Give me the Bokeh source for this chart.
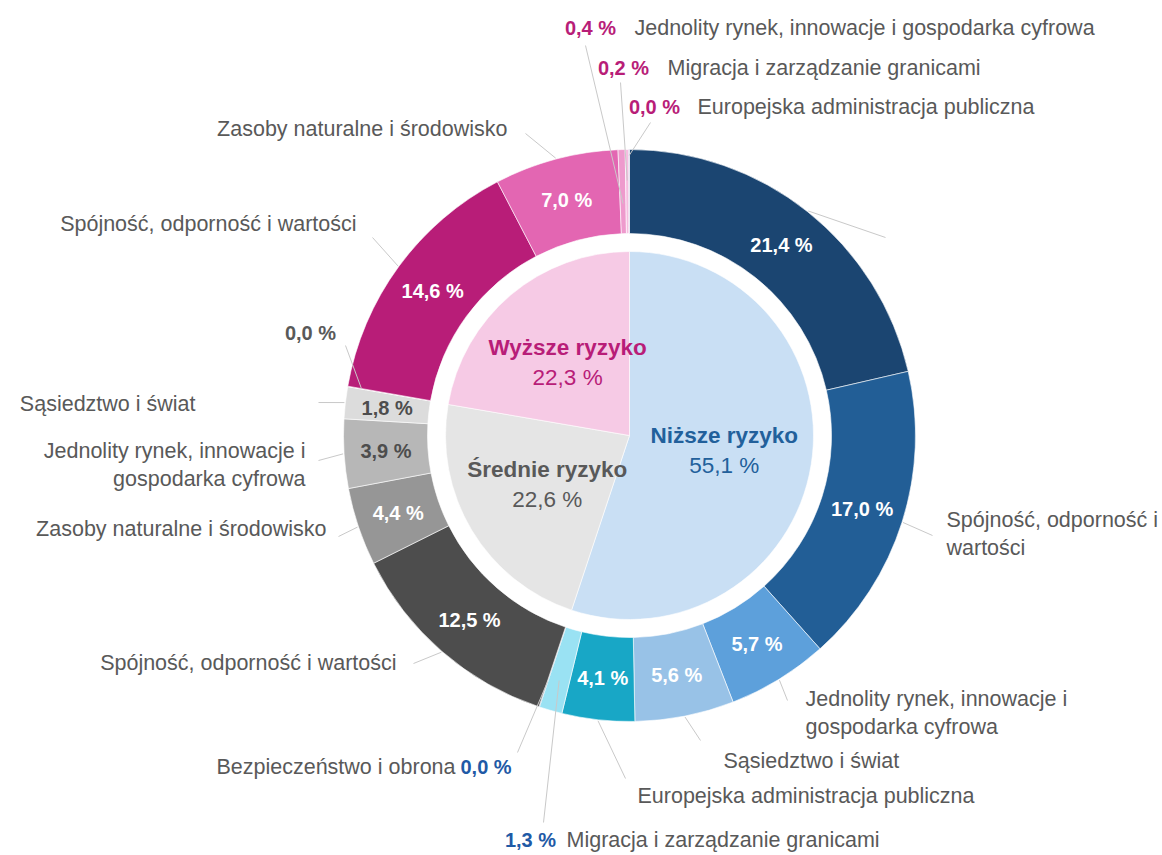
import math
from bokeh.plotting import figure
from bokeh.models import Range1d
from bokeh.core.properties import value
from bokeh.embed import file_html
from bokeh.resources import INLINE

# ---------------- data ----------------
groups = ["Niższe ryzyko", "Średnie ryzyko", "Wyższe ryzyko"]
group_values = [55.1, 22.6, 22.3]
group_colors = ["#C9DFF4", "#E5E5E5", "#F6CAE5"]
group_text_colors = ["#22609B", "#595959", "#B81D78"]

ring_names = [
    "Zasoby naturalne i środowisko", "Spójność, odporność i wartości",
    "Jednolity rynek, innowacje i gospodarka cyfrowa", "Sąsiedztwo i świat",
    "Europejska administracja publiczna", "Migracja i zarządzanie granicami",
    "Bezpieczeństwo i obrona",
    "Spójność, odporność i wartości", "Zasoby naturalne i środowisko",
    "Jednolity rynek, innowacje i gospodarka cyfrowa", "Sąsiedztwo i świat",
    "Europejska administracja publiczna",
    "Spójność, odporność i wartości", "Zasoby naturalne i środowisko",
    "Jednolity rynek, innowacje i gospodarka cyfrowa",
    "Migracja i zarządzanie granicami", "Europejska administracja publiczna",
]
ring_values = [21.4, 17.0, 5.7, 5.6, 4.1, 1.3, 0.03,
               12.5, 4.4, 3.9, 1.8, 0.03,
               14.6, 7.0, 0.4, 0.2, 0.04]
ring_group = [0, 0, 0, 0, 0, 0, 0, 1, 1, 1, 1, 1, 2, 2, 2, 2, 2]
ring_colors = ["#1B4571", "#225E96", "#5DA0DB", "#98C2E7", "#18A7C6", "#9AE2F3", "#2E5E9E",
               "#4D4D4D", "#969696", "#B7B7B7", "#DCDCDC", "#EFEFEF",
               "#B81D78", "#E366B2", "#EE9ACD", "#F6BDE0", "#8E7BBE"]

# ---------------- layout ----------------
W, H = 1162, 855
CX, CY = 629, 435          # screen coords of centre
R_PIE, R_IN, R_OUT = 184, 202, 286
NAME_FONT = "21.5px"
PCT_FONT = "20px"
CENTER_FONT = "22.5px"
TEXT_GREY = "#595959"
LEADER = "#C9C9C9"
FONT = value("Liberation Sans")

def sy(y):
    return H - y

p = figure(width=W, height=H, x_range=Range1d(0, W), y_range=Range1d(0, H),
           output_backend="svg", toolbar_location=None,
           x_axis_location=None, y_axis_location=None, min_border=0)
p.grid.visible = False
p.outline_line_color = None
p.background_fill_color = "white"

# inner pie
tot = sum(group_values)
cum = 0.0
gmid = []
for v, c in zip(group_values, group_colors):
    a0 = math.pi / 2 - 2 * math.pi * cum / tot
    a1 = math.pi / 2 - 2 * math.pi * (cum + v) / tot
    p.wedge(x=CX, y=sy(CY), radius=R_PIE, start_angle=a0, end_angle=a1,
            direction="clock", fill_color=c, line_color="white", line_width=0.6)
    gmid.append((a0 + a1) / 2)
    cum += v

# centre labels
for i, g in enumerate(groups):
    a = gmid[i]
    r = 96
    x = CX + r * math.cos(a)
    y = sy(CY) + r * math.sin(a)
    p.text(x=[x], y=[y + 15], text=[g], text_align="center", text_baseline="middle",
           text_font=FONT, text_font_size=CENTER_FONT, text_font_style="bold",
           text_color=group_text_colors[i])
    p.text(x=[x], y=[y - 15], text=[f"{group_values[i]:.1f} %".replace(".", ",")],
           text_align="center", text_baseline="middle",
           text_font=FONT, text_font_size=CENTER_FONT, text_color=group_text_colors[i])

# outer ring
rtot = sum(ring_values)
cum = 0.0
rmid = []
for v, c in zip(ring_values, ring_colors):
    a0 = math.pi / 2 - 2 * math.pi * cum / rtot
    a1 = math.pi / 2 - 2 * math.pi * (cum + v) / rtot
    p.annular_wedge(x=CX, y=sy(CY), inner_radius=R_IN, outer_radius=R_OUT,
                    start_angle=a0, end_angle=a1, direction="clock",
                    fill_color=c, line_color="white", line_width=0.6)
    rmid.append((a0 + a1) / 2)
    cum += v

def pct(v):
    return f"{v:.1f} %".replace(".", ",")

# label layout: (name lines, name x, first line y, align, pct position or None (inside), leader end, leader ring radius)
layout = [
    ([], None, None, None, None, (885, 237), 287),
    (["Spójność, odporność i", "wartości"], 946, 519, "left", None, (932, 535), 287),
    (["Jednolity rynek, innowacje i", "gospodarka cyfrowa"], 805, 698, "left", None, (787, 700), 287),
    (["Sąsiedztwo i świat"], 723, 760, "left", None, (700, 740), 287),
    (["Europejska administracja publiczna"], 637, 795, "left", None, (625, 778), 287),
    (["Migracja i zarządzanie granicami"], 566, 839, "left", (530, 839, "center"), (543, 822), 255),
    (["Bezpieczeństwo i obrona"], 455, 766, "right", (460, 766, "left"), (517, 752), 260),
    (["Spójność, odporność i wartości"], 396, 662, "right", None, (413, 663), 287),
    (["Zasoby naturalne i środowisko"], 326, 528, "right", None, (338, 536), 287),
    (["Jednolity rynek, innowacje i", "gospodarka cyfrowa"], 305, 450, "right", None, (318, 460), 287),
    (["Sąsiedztwo i świat"], 195, 403, "right", None, (318, 402), 287),
    ([], None, None, None, (310, 332, "center"), (345, 345), 272),
    (["Spójność, odporność i wartości"], 356, 223, "right", None, (372, 237), 287),
    (["Zasoby naturalne i środowisko"], 507, 128, "right", None, (525, 133), 287),
    (["Jednolity rynek, innowacje i gospodarka cyfrowa"], 634, 27, "left", (590, 27, "center"), (585, 45), 232),
    (["Migracja i zarządzanie granicami"], 667, 67, "left", (623, 67, "center"), (620, 82), 255),
    (["Europejska administracja publiczna"], 697, 106, "left", (654, 106, "center"), (650, 122), 280),
]

group_pct_colors = ["#1F5AA6", "#595959", "#B81D78"]
dark_text_segments = {9, 10}

for i, (lines, nx, ny, align, ppos, lend, lr) in enumerate(layout):
    a = rmid[i]
    rx = CX + lr * math.cos(a)
    ry = sy(CY) + lr * math.sin(a)
    p.line(x=[lend[0], rx], y=[sy(lend[1]), ry], line_color=LEADER, line_width=1)
    for k, t in enumerate(lines):
        p.text(x=[nx], y=[sy(ny + 28 * k)], text=[t], text_align=align,
               text_baseline="middle", text_font=FONT, text_font_size=NAME_FONT,
               text_color=TEXT_GREY)
    if ppos is None:
        r = 244
        x = CX + r * math.cos(a)
        y = sy(CY) + r * math.sin(a)
        col = "#4D4D4D" if i in dark_text_segments else "white"
        p.text(x=[x], y=[y], text=[pct(ring_values[i])], text_align="center",
               text_baseline="middle", text_font=FONT, text_font_size=PCT_FONT,
               text_font_style="bold", text_color=col)
    else:
        p.text(x=[ppos[0]], y=[sy(ppos[1])], text=[pct(ring_values[i])], text_align=ppos[2],
               text_baseline="middle", text_font=FONT, text_font_size=PCT_FONT,
               text_font_style="bold", text_color=group_pct_colors[ring_group[i]])

open("out.html", "w").write(file_html(p, INLINE))
